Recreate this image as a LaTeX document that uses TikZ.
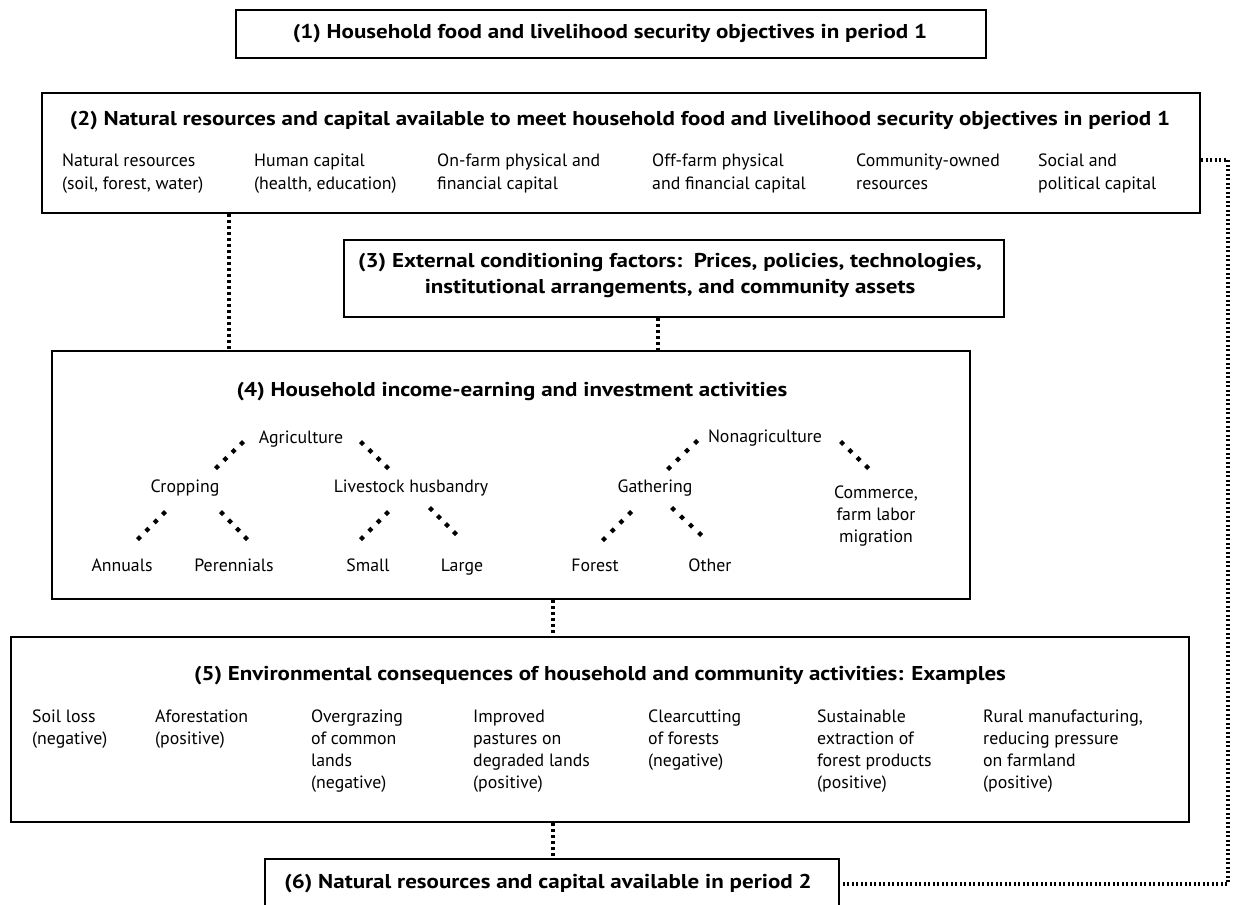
\documentclass[tikz,border=0pt]{standalone}
\usepackage{graphicx}
\usepackage{fontspec}
\setmainfont{PT Sans}
\usetikzlibrary{calc}
\newcommand{\tdots}[2]{\foreach \tt in {0,0.3333,0.6667,1}{\fill ($#1!\tt!#2$) +(0,-3) -- +(3,0) -- +(0,3) -- +(-3,0) -- cycle;}}
\newcommand{\tstr}[1]{\scalebox{1.15}[1]{#1}}
\begin{document}
\begin{tikzpicture}[x=1pt,y=-1pt,
  box/.style={draw, line width=2.8pt, inner sep=0pt},
  ttl/.style={font=\bfseries\fontsize{20}{26}\selectfont, align=center, inner sep=0pt},
  txt/.style={font=\fontsize{17.8}{22.3}\selectfont, align=left, anchor=base west, inner sep=0pt},
  lbl/.style={font=\fontsize{17.8}{22}\selectfont, align=center, inner sep=0pt, anchor=base},
  vdots/.style={line width=3.2pt, dash pattern=on 3pt off 3pt},
  hdots/.style={line width=3.2pt, dash pattern=on 2pt off 2.5pt}]
\useasboundingbox (0,0) rectangle (1235,905);
% boxes
\node[box, minimum width=750, minimum height=48] (b1) at (611,34) {};
\node[box, minimum width=1158, minimum height=120] (b2) at (621,153) {};
\node[box, minimum width=660, minimum height=77] (b3) at (674,278.5) {};
\node[box, minimum width=918, minimum height=248] (b4) at (511,475) {};
\node[box, minimum width=1178, minimum height=185] (b5) at (600,729.5) {};
\node[box, minimum width=574, minimum height=102] (b6) at (552,910) {};
% titles
\node[ttl] (t1) at (610,34) {\tstr{(1) Household food and livelihood security objectives in period 1}};
\node[ttl] (t2) at (620,121) {\tstr{(2) Natural resources and capital available to meet household food and livelihood security objectives in period 1}};
\node[ttl] (t3) at (670,275) {\tstr{(3) External conditioning factors:\ \ Prices, policies, technologies,}\\ \tstr{institutional arrangements, and community assets}};
\node[ttl] (t4) at (512,392) {\tstr{(4) Household income-earning and investment activities}};
\node[ttl] (t5) at (600,676) {\tstr{(5) Environmental consequences of household and community activities: Examples}};
\node[ttl] (t6) at (548,884) {\tstr{(6) Natural resources and capital available in period 2}};
% box 2 columns (anchor = baseline of last line)
\node[txt] (r1) at (62,189) {Natural resources\\(soil, forest, water)};
\node[txt] (r2) at (254,189) {Human capital\\(health, education)};
\node[txt] (r3) at (437,189) {On-farm physical and\\financial capital};
\node[txt] (r4) at (652,189) {Off-farm physical\\and financial capital};
\node[txt] (r5) at (856,189) {Community-owned\\resources};
\node[txt] (r6) at (1038,189) {Social and\\political capital};
% box 5 columns (anchor = baseline of last line)
\node[txt] (e1) at (32,744.3) {Soil loss\\(negative)};
\node[txt] (e2) at (155,744.3) {Aforestation\\(positive)};
\node[txt] (e3) at (311,788.9) {Overgrazing\\of common\\lands\\(negative)};
\node[txt] (e4) at (473,788.9) {Improved\\pastures on\\degraded lands\\(positive)};
\node[txt] (e5) at (648,766.6) {Clearcutting\\of forests\\(negative)};
\node[txt] (e6) at (817,788.9) {Sustainable\\extraction of\\forest products\\(positive)};
\node[txt] (e7) at (983,788.9) {Rural manufacturing,\\reducing pressure\\on farmland\\(positive)};
% tree (anchor = baseline)
\node[lbl] (agri) at (301,443) {Agriculture};
\node[lbl] (crop) at (185,492) {Cropping};
\node[lbl] (live) at (411,492) {Livestock husbandry};
\node[lbl] (ann) at (122,571) {Annuals};
\node[lbl] (per) at (234,571) {Perennials};
\node[lbl] (small) at (368,571) {Small};
\node[lbl] (large) at (462,571) {Large};
\node[lbl] (nonag) at (765,442) {Nonagriculture};
\node[lbl] (gath) at (655,492) {Gathering};
\node[lbl] (forest) at (595,571) {Forest};
\node[lbl] (other) at (710,571) {Other};
\node[lbl] (comm) at (876,542) {Commerce,\\farm labor\\migration};
\tdots{(217,467)}{(242,443)}
\tdots{(362,443)}{(387,467)}
\tdots{(139,538)}{(164,513)}
\tdots{(222,513)}{(246,538)}
\tdots{(362,538)}{(387,513)}
\tdots{(431,509)}{(455,533)}
\tdots{(669,468)}{(696,442)}
\tdots{(842,443)}{(867,467)}
\tdots{(604,539)}{(630,513)}
\tdots{(673,509)}{(700,534)}
% connectors
\coordinate (c1) at (229,0);
\coordinate (c2) at (658,0);
\coordinate (c3) at (553,0);
\coordinate (lp1) at (1228,160);
\coordinate (lp2) at (1228,884);
\draw[vdots] (b2.south -| c1) -- (b4.north -| c1);
\draw[vdots] (b3.south -| c2) -- (b4.north -| c2);
\draw[vdots] (b4.south -| c3) -- (b5.north -| c3);
\draw[vdots] (b5.south -| c3) -- (b6.north -| c3);
\draw[hdots] (b2.east |- lp1) -- (lp1) -- (lp2) -- (b6.east |- lp2);
\end{tikzpicture}
\end{document}
